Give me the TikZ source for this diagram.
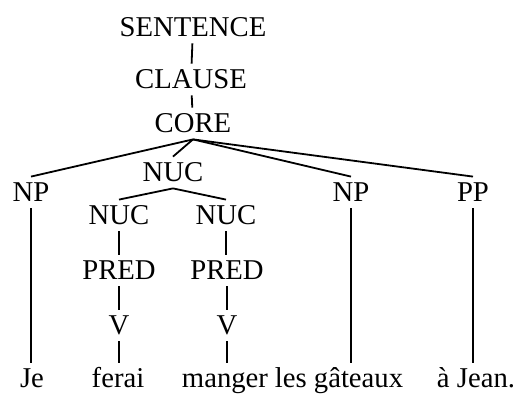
\documentclass[tikz,border=0pt]{standalone}
\usepackage{fontspec}
\setmainfont{Liberation Serif}
\begin{document}
\begin{tikzpicture}[x=0.5pt,y=-0.5pt,
	every node/.style={anchor=base,font=\fontsize{14.35}{17}\selectfont,
		text height=9.5pt,text depth=0pt,inner xsep=1pt,inner ysep=3pt}]
		\useasboundingbox (0,0) rectangle (515,394);
		\node (S) at (193,37) {SENTENCE};
		\node (Cl) at (191,89) {CLAUSE};
		\node (Co) at (193,133) {CORE};
		\node (Nuc) at (173,182) {NUC};
		
		\node (NP) at (31,202) {NP};
		\node (NP') at (351,202) {NP};
		\node (PP) at (473,202) {PP};
		
		\node (NucL) at (119,225) {NUC};
		\node (NucR) at (226,225) {NUC};
		\node (PredL) at (119,280) {PRED};
		\node (PredR) at (227,280) {PRED};
		\node (VL) at (119,335) {V};
		\node (VR) at (227,335) {V};
		
		\node (Je) at (32,388) {Je};
		\node (ferai) at (118,388) {ferai};
		\node (manger) at (225,388) {manger};
		\node (gateaux) at (339,388) {les gâteaux};
		\node (Jean) at (476,388) {à Jean.};
		%
		\path[-,line width=0.9pt]
		(S) edge (Cl)
		(Cl) edge (Co)
		(Co.south) edge (NP.north)
		(Co.south) edge (Nuc.north)
		(Co.south) edge (NP'.north)
		(Co.south) edge (PP.north)
		(Nuc.south) edge (NucL.north)
		(Nuc.south) edge (NucR.north)
		(NucL) edge (PredL)
		(NucR.south) edge (NucR.south |- PredR.north)
		(PredL) edge (VL)
		(PredR) edge (VR)
		(NP.south) edge (NP.south |- Je.north)
		(VL.south) edge (VL.south |- ferai.north)
		(VR.south) edge (VR.south |- manger.north)
		(NP'.south) edge (NP'.south |- gateaux.north)
		(PP.south) edge (PP.south |- Jean.north);
	\end{tikzpicture}
\end{document}
